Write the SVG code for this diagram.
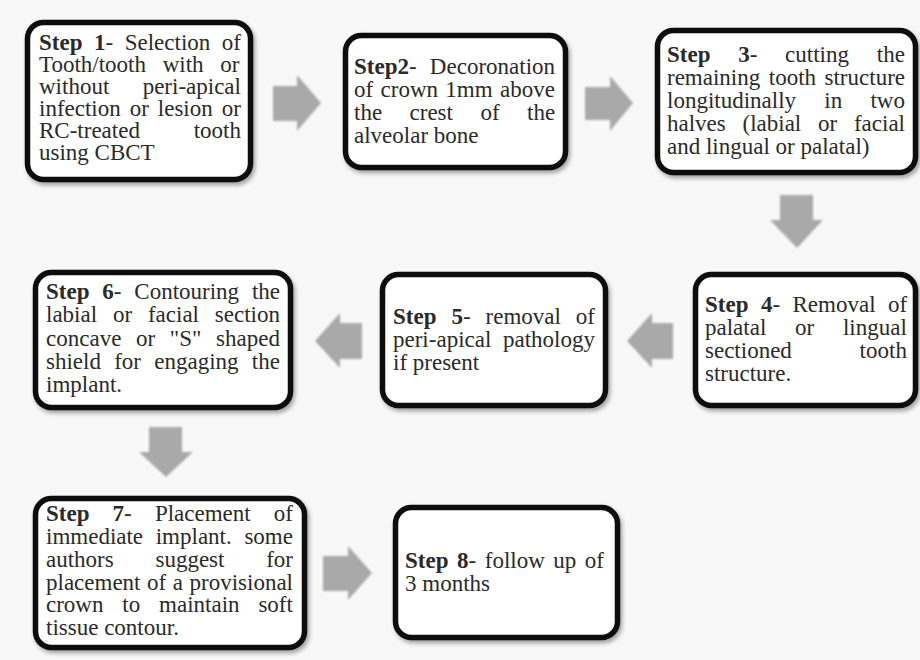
<svg xmlns="http://www.w3.org/2000/svg" width="920" height="660" viewBox="0 0 920 660">
<style>
.box{fill:#ffffff;stroke:#111111;stroke-width:5.5}
.b{font-weight:bold}
.arr{fill:#a9a9a9}
</style>
<defs>
<filter id="sh" x="-10%" y="-10%" width="125%" height="130%">
<feDropShadow dx="2" dy="3" stdDeviation="2" flood-color="#000" flood-opacity="0.35"/>
</filter>
<filter id="bl" x="-20%" y="-20%" width="140%" height="140%">
<feGaussianBlur stdDeviation="1.3"/>
</filter>
</defs>
<rect x="0" y="0" width="920" height="660" fill="#f8f8f8"/>

<g id="connectors">
<polygon class="arr" filter="url(#bl)" points="273,86 297,86 297,75 321,103 297,131 297,121 273,121"/>
<polygon class="arr" filter="url(#bl)" points="585,87 610,87 610,76 633,103 610,131 610,120 585,120"/>
<polygon class="arr" filter="url(#bl)" points="780,195 813,195 813,220 823,220 797,248 770,220 780,220"/>
<polygon class="arr" filter="url(#bl)" points="673,323 652,323 652,313 627,341 652,368 652,359 673,359"/>
<polygon class="arr" filter="url(#bl)" points="362,323 340,323 340,313 315,341 340,368 340,359 362,359"/>
<polygon class="arr" filter="url(#bl)" points="149,427 182,427 182,452 193,452 166,477 139,452 149,452"/>
<polygon class="arr" filter="url(#bl)" points="323,556 348,556 348,546 372,573 348,600 348,591 323,591"/>
</g>

<g id="step1" font-family="Liberation Serif, Times New Roman, serif" font-size="23" fill="#2a2a2a">
<rect class="box" filter="url(#sh)" x="27.5" y="22.5" width="223" height="157" rx="16"/>
<text x="39" y="50" word-spacing="5.8"><tspan class="b">Step 1</tspan>- Selection of</text>
<text x="39" y="72" word-spacing="10.9">Tooth/tooth with or</text>
<text x="39" y="94" word-spacing="27.6">without peri-apical</text>
<text x="39" y="116" word-spacing="3.2">infection or lesion or</text>
<text x="39" y="138" word-spacing="48">RC-treated tooth</text>
<text x="39" y="160">using CBCT</text>
</g>

<g id="step2" font-family="Liberation Serif, Times New Roman, serif" font-size="23" fill="#2a2a2a">
<rect class="box" filter="url(#sh)" x="345.5" y="35.5" width="220" height="132" rx="16"/>
<text x="354" y="74" word-spacing="7.5"><tspan class="b">Step2</tspan>- Decoronation</text>
<text x="354" y="97" word-spacing="1.6">of crown 1mm above</text>
<text x="354" y="120" word-spacing="21.7">the crest of the</text>
<text x="354" y="143">alveolar bone</text>
</g>

<g id="step3" font-family="Liberation Serif, Times New Roman, serif" font-size="23" fill="#2a2a2a">
<rect class="box" filter="url(#sh)" x="657.5" y="30.5" width="258" height="142" rx="16"/>
<text x="667" y="62" word-spacing="22"><tspan class="b">Step 3</tspan>- cutting the</text>
<text x="667" y="85" word-spacing="2.75">remaining tooth structure</text>
<text x="667" y="108" word-spacing="22.5">longitudinally in two</text>
<text x="667" y="131" word-spacing="11">halves (labial or facial</text>
<text x="667" y="154">and lingual or palatal)</text>
</g>

<g id="step4" font-family="Liberation Serif, Times New Roman, serif" font-size="23" fill="#2a2a2a">
<rect class="box" filter="url(#sh)" x="695.5" y="274.5" width="220" height="131" rx="16"/>
<text x="705" y="312" word-spacing="6.7"><tspan class="b">Step 4</tspan>- Removal of</text>
<text x="705" y="335" word-spacing="23">palatal or lingual</text>
<text x="705" y="358" word-spacing="62">sectioned tooth</text>
<text x="705" y="381">structure.</text>
</g>

<g id="step5" font-family="Liberation Serif, Times New Roman, serif" font-size="23" fill="#2a2a2a">
<rect class="box" filter="url(#sh)" x="382.5" y="274.5" width="223" height="131" rx="16"/>
<text x="393" y="324" word-spacing="9.2"><tspan class="b">Step 5</tspan>- removal of</text>
<text x="393" y="347" word-spacing="5.9">peri-apical pathology</text>
<text x="393" y="370">if present</text>
</g>

<g id="step6" font-family="Liberation Serif, Times New Roman, serif" font-size="23" fill="#2a2a2a">
<rect class="box" filter="url(#sh)" x="35.5" y="272.5" width="255" height="135" rx="16"/>
<text x="46" y="299" word-spacing="7.1"><tspan class="b">Step 6</tspan>- Contouring the</text>
<text x="46" y="322" word-spacing="10.1">labial or facial section</text>
<text x="46" y="345.5" word-spacing="8.9">concave or "S" shaped</text>
<text x="46" y="369" word-spacing="7.5">shield for engaging the</text>
<text x="46" y="392">implant.</text>
</g>

<g id="step7" font-family="Liberation Serif, Times New Roman, serif" font-size="23" fill="#2a2a2a">
<rect class="box" filter="url(#sh)" x="35.5" y="498.5" width="269" height="149" rx="16"/>
<text x="46" y="521" word-spacing="17.4"><tspan class="b">Step 7</tspan>- Placement of</text>
<text x="46" y="544" word-spacing="6.9">immediate implant. some</text>
<text x="46" y="567" word-spacing="36">authors suggest for</text>
<text x="46" y="589.5" word-spacing="0.8">placement of a provisional</text>
<text x="46" y="612" word-spacing="13.1">crown to maintain soft</text>
<text x="46" y="635">tissue contour.</text>
</g>

<g id="step8" font-family="Liberation Serif, Times New Roman, serif" font-size="23" fill="#2a2a2a">
<rect class="box" filter="url(#sh)" x="395.5" y="507.5" width="222" height="130" rx="16"/>
<text x="405" y="568" word-spacing="2.8"><tspan class="b">Step 8</tspan>- follow up of</text>
<text x="405" y="591">3 months</text>
</g>
</svg>
